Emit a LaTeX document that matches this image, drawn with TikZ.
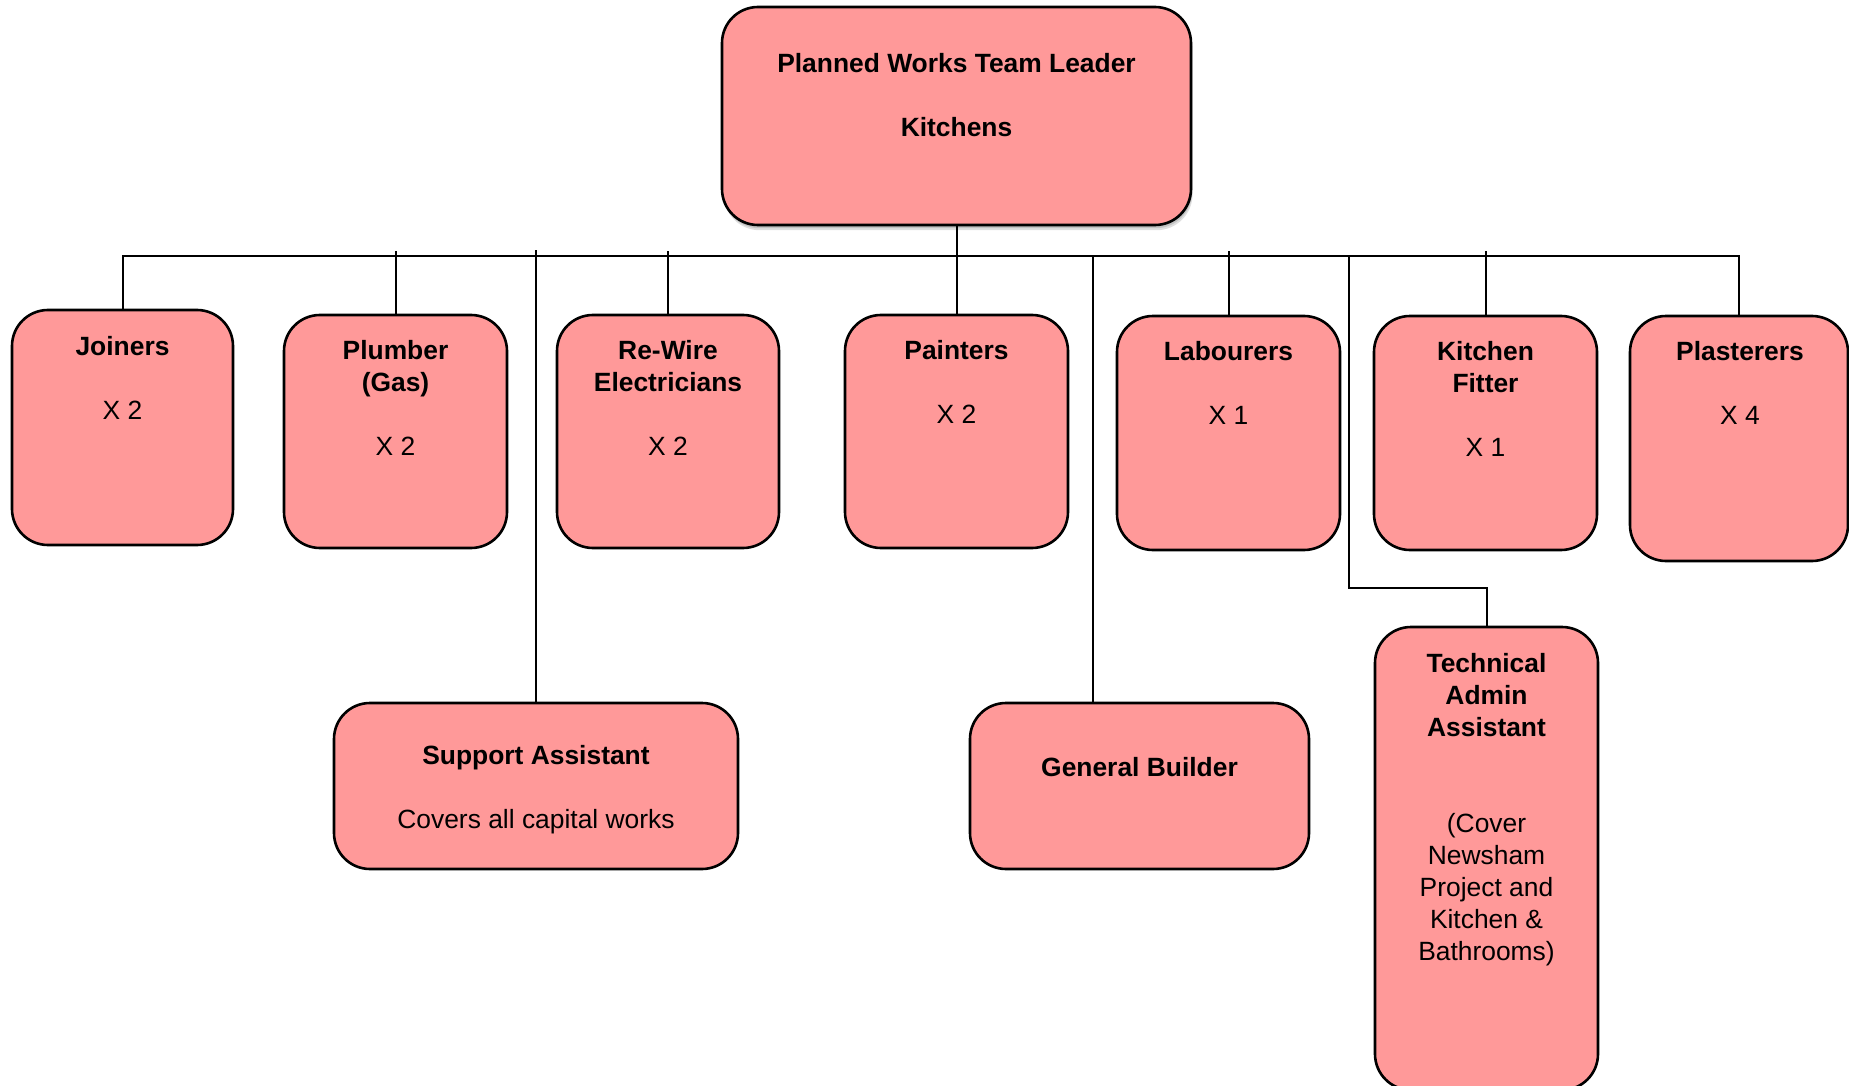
\documentclass[tikz,border=0pt]{standalone}
\usepackage{fontspec}
\setmainfont{Liberation Sans}
\usetikzlibrary{calc,shadows}
\definecolor{boxfill}{RGB}{255,153,153}
\begin{document}
\begin{tikzpicture}[x=0.5pt,y=-0.5pt,
  box/.style={draw=black, line width=1.3pt, fill=boxfill, rounded corners=18pt, inner sep=0pt, shape=rectangle},
  txt/.style={anchor=north, inner sep=0pt, align=center, font=\fontsize{13.2}{16}\selectfont},
  conn/.style={draw=black, line width=1pt}]
\useasboundingbox[fill=white] (0,0) rectangle (1849,1086);
\coordinate (bus) at (0,256);
% boxes
\node[box, drop shadow={shadow xshift=0.8pt, shadow yshift=-2.6pt, opacity=0.25},
      drop shadow={shadow xshift=0.5pt, shadow yshift=-1.6pt, opacity=0.3},
      minimum width=234.5pt, minimum height=109pt] (lead) at (956.5,116) {};
\node[box, minimum width=110.5pt, minimum height=117.5pt] (jo) at (122.5,427.5) {};
\node[box, minimum width=111.5pt, minimum height=116.5pt] (plu) at (395.5,431.5) {};
\node[box, minimum width=111pt, minimum height=116.5pt] (rew) at (668,431.5) {};
\node[box, minimum width=111.5pt, minimum height=116.5pt] (pai) at (956.5,431.5) {};
\node[box, minimum width=111.5pt, minimum height=117pt] (lab) at (1228.5,433) {};
\node[box, minimum width=111.5pt, minimum height=117pt] (kit) at (1485.5,433) {};
\node[box, minimum width=109pt, minimum height=122.5pt] (pla) at (1739,438.5) {};
\node[box, minimum width=202pt, minimum height=83pt] (sup) at (536,786) {};
\node[box, minimum width=169.5pt, minimum height=83pt] (gen) at (1139.5,786) {};
\node[box, minimum width=111.5pt, minimum height=231.5pt] (tec) at (1486.5,858.5) {};
% connectors
\draw[conn] (lead.south) -- (pai.north);
\draw[conn] (jo.north) -- (jo.north |- bus) -- (pla.north |- bus) -- (pla.north);
\draw[conn] ($(plu.north |- bus)+(0,-5)$) -- (plu.north);
\draw[conn] ($(rew.north |- bus)+(0,-5)$) -- (rew.north);
\draw[conn] ($(lab.north |- bus)+(0,-5)$) -- (lab.north);
\draw[conn] ($(kit.north |- bus)+(0,-5)$) -- (kit.north);
\draw[conn] ($(sup.north |- bus)+(0,-6)$) -- (sup.north);
\coordinate (genTop) at ($(gen.north west)!0.363!(gen.north east)$);
\draw[conn] (genTop |- bus) -- (genTop);
\coordinate (tbend) at (1349,588);
\draw[conn] (tbend |- bus) -- (tbend) -- (tbend -| tec.north) -- (tec.north);
% texts
\node[txt] (leadT) at (956.5,49.6) {\strut\textbf{Planned Works Team Leader}\\[16pt]\textbf{Kitchens}};
\node[txt] (joT) at (122.5,332.6) {\strut\textbf{Joiners}\\[16pt]X 2};
\node[txt] (pluT) at (395.5,337) {\strut\textbf{Plumber}\\\textbf{(Gas)}\\[16pt]X 2};
\node[txt] (rewT) at (668,337) {\strut\textbf{Re-Wire}\\\textbf{Electricians}\\[16pt]X 2};
\node[txt] (paiT) at (956.5,337) {\strut\textbf{Painters}\\[16pt]X 2};
\node[txt] (labT) at (1228.5,338) {\strut\textbf{Labourers}\\[16pt]X 1};
\node[txt] (kitT) at (1485.5,338) {\strut\textbf{Kitchen}\\\textbf{Fitter}\\[16pt]X 1};
\node[txt] (plaT) at (1740,338) {\strut\textbf{Plasterers}\\[16pt]X 4};
\node[txt] (supT) at (536,742) {\strut\textbf{Support Assistant}\\[16pt]Covers all capital works};
\node[txt] (genT) at (1139.5,753.6) {\strut\textbf{General Builder}};
\node[txt] (tecT) at (1486.5,650) {\strut\textbf{Technical}\\\textbf{Admin}\\\textbf{Assistant}\\[32pt](Cover\\Newsham\\Project and\\Kitchen \&\\Bathrooms)};
\end{tikzpicture}
\end{document}
